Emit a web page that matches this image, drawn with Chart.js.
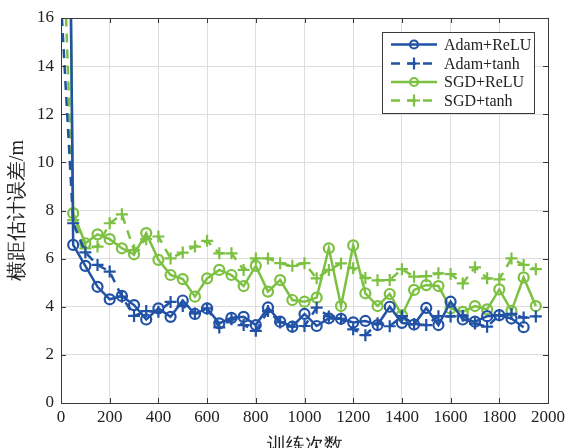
<!DOCTYPE html>
<html>
<head>
<meta charset="utf-8">
<script src="https://cdn.jsdelivr.net/npm/chart.js@4"></script>
<style>
  html, body { margin: 0; padding: 0; background: #ffffff; overflow: hidden; }
  canvas { display: block; }
</style>
</head>
<body>
<canvas id="grafico" width="577" height="448"></canvas>
<script>
// iterazioni di addestramento (asse x)
const iterazioni = [0, 50, 100, 150, 200, 250, 300, 350, 400, 450, 500, 550, 600, 650, 700, 750,
  800, 850, 900, 950, 1000, 1050, 1100, 1150, 1200, 1250, 1300, 1350, 1400, 1450, 1500, 1550,
  1600, 1650, 1700, 1750, 1800, 1850, 1900, 1950];

const adamRelu = [60, 6.57, 5.7, 4.83, 4.31, 4.45, 4.07, 3.47, 3.93, 3.58, 4.26, 3.7, 3.93, 3.31, 3.54, 3.58,
  3.24, 3.97, 3.38, 3.17, 3.7, 3.2, 3.52, 3.5, 3.35, 3.41, 3.24, 4.0, 3.33, 3.26, 3.95, 3.24,
  4.21, 3.47, 3.38, 3.61, 3.65, 3.51, 3.15, null];
const adamTanh = [16.7, 7.47, 6.26, 5.74, 5.46, 4.42, 3.62, 3.82, 3.79, 4.2, 4.03, 3.72, 3.93, 3.14, 3.48, 3.24,
  3.0, 3.82, 3.35, 3.17, 3.2, 3.96, 3.6, 3.5, 3.06, 2.82, 3.31, 3.19, 3.61, 3.28, 3.24, 3.61,
  3.6, 3.63, 3.3, 3.17, 3.65, 3.7, 3.55, 3.6];
const sgdRelu = [50, 7.89, 6.64, 7.01, 6.81, 6.43, 6.18, 7.06, 5.95, 5.32, 5.15, 4.42, 5.18, 5.53, 5.32, 4.86,
  5.7, 4.63, 5.11, 4.28, 4.21, 4.38, 6.43, 4.03, 6.55, 4.56, 4.03, 4.53, 3.65, 4.7, 4.9, 4.86,
  3.93, 3.79, 4.03, 3.89, 4.72, 3.83, 5.22, 4.03];
const sgdTanh = [22, 7.6, 6.43, 6.5, 7.47, 7.84, 6.35, 6.81, 6.92, 6.01, 6.25, 6.5, 6.74, 6.22, 6.22, 5.53,
  6.01, 6.01, 5.81, 5.7, 5.81, 5.18, 5.53, 5.8, 5.6, 5.2, 5.1, 5.11, 5.56, 5.25, 5.27, 5.39,
  5.36, 4.97, 5.64, 5.18, 5.14, 6.01, 5.74, 5.56];

const BLU = '#2152a6';
const VERDE = '#7cc142';
const SERIF = '"Liberation Serif", "Times New Roman", serif';

const punti = arr => iterazioni.map((x, i) => ({ x: x, y: arr[i] }));

function serie(label, valori, colore, tratteggio, stile) {
  return {
    label: label,
    data: punti(valori),
    borderColor: colore,
    backgroundColor: colore,
    borderWidth: 2.5,
    borderDash: tratteggio ? [9, 7] : [],
    pointStyle: stile,
    pointRadius: stile === 'cross' ? 6 : 5,
    pointBorderWidth: 2.2,
    pointBorderColor: colore,
    pointBackgroundColor: 'rgba(0,0,0,0)',
    tension: 0,
    spanGaps: false
  };
}

// cornice, tacche interne e legenda in stile MATLAB
const cornice = {
  id: 'cornice',
  afterDraw(chart) {
    const { ctx, chartArea: a, scales } = chart;
    ctx.save();
    ctx.strokeStyle = '#3a3a3a';
    ctx.lineWidth = 1;
    ctx.strokeRect(a.left + 0.5, a.top + 0.5, a.right - a.left, a.bottom - a.top);
    const L = 5;
    ctx.beginPath();
    scales.x.ticks.forEach(t => {
      const px = Math.round(scales.x.getPixelForValue(t.value)) + 0.5;
      ctx.moveTo(px, a.bottom); ctx.lineTo(px, a.bottom - L);
      ctx.moveTo(px, a.top); ctx.lineTo(px, a.top + L);
    });
    scales.y.ticks.forEach(t => {
      const py = Math.round(scales.y.getPixelForValue(t.value)) + 0.5;
      ctx.moveTo(a.left, py); ctx.lineTo(a.left + L, py);
      ctx.moveTo(a.right, py); ctx.lineTo(a.right - L, py);
    });
    ctx.stroke();

    // legenda
    const bx = 382, by = 32, bw = 152, bh = 81;
    ctx.fillStyle = '#ffffff';
    ctx.fillRect(bx, by, bw, bh);
    ctx.strokeStyle = '#3a3a3a';
    ctx.strokeRect(bx + 0.5, by + 0.5, bw, bh);
    const righe = [44.5, 63.5, 82, 100.5];
    chart.data.datasets.forEach((ds, i) => {
      const y = righe[i];
      ctx.strokeStyle = ds.borderColor;
      ctx.lineWidth = 2.5;
      ctx.setLineDash(ds.borderDash);
      ctx.beginPath();
      ctx.moveTo(391, y); ctx.lineTo(437, y);
      ctx.stroke();
      ctx.setLineDash([]);
      ctx.lineWidth = 2.2;
      ctx.beginPath();
      if (ds.pointStyle === 'cross') {
        ctx.moveTo(414 - 6, y); ctx.lineTo(414 + 6, y);
        ctx.moveTo(414, y - 6); ctx.lineTo(414, y + 6);
      } else {
        ctx.arc(414, y, 4, 0, Math.PI * 2);
      }
      ctx.stroke();
      ctx.fillStyle = '#222222';
      ctx.font = '16px ' + SERIF;
      ctx.textBaseline = 'middle';
      ctx.textAlign = 'left';
      ctx.fillText(ds.label, 444, y + 1);
    });
    ctx.restore();
  }
};

new Chart(document.getElementById('grafico'), {
  type: 'line',
  data: {
    datasets: [
      serie('Adam+ReLU', adamRelu, BLU, false, 'circle'),
      serie('Adam+tanh', adamTanh, BLU, true, 'cross'),
      serie('SGD+ReLU', sgdRelu, VERDE, false, 'circle'),
      serie('SGD+tanh', sgdTanh, VERDE, true, 'cross')
    ]
  },
  options: {
    responsive: false,
    animation: false,
    devicePixelRatio: 1,
    layout: { padding: { left: 0, top: 18, right: 29, bottom: 0 } },
    plugins: {
      legend: { display: false },
      tooltip: { enabled: false }
    },
    scales: {
      x: {
        type: 'linear',
        min: 0,
        max: 2000,
        ticks: {
          stepSize: 200, autoSkip: false, maxRotation: 0, color: '#222', padding: 4,
          font: { family: SERIF, size: 17 },
          callback: v => String(v)
        },
        grid: { color: '#dedede', drawTicks: false },
        border: { display: false },
        title: {
          display: true,
          text: '训练次数',
          color: '#222',
          font: { family: SERIF, size: 19, lineHeight: 1 },
          padding: { top: 0, bottom: -8 }
        },
        afterFit: s => { s.height = 45; }
      },
      y: {
        min: 0,
        max: 16,
        ticks: {
          stepSize: 2, autoSkip: false, color: '#222', padding: 7,
          font: { family: SERIF, size: 17 },
          callback: v => String(v)
        },
        grid: { color: '#dedede', drawTicks: false },
        border: { display: false },
        title: {
          display: true,
          text: '横距估计误差/m',
          color: '#222',
          font: { family: SERIF, size: 20, lineHeight: 1.2 },
          padding: { top: 6, bottom: 0 }
        },
        afterFit: s => { s.width = 61; }
      }
    }
  },
  plugins: [cornice]
});
</script>
</body>
</html>
